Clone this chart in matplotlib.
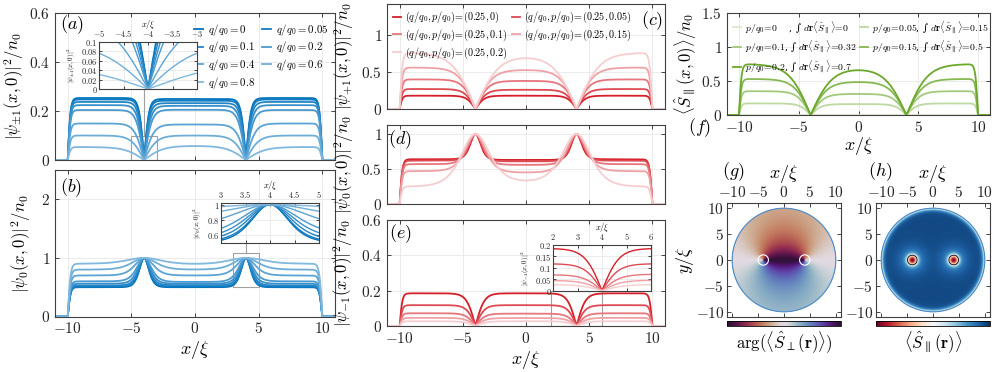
import numpy as np
import matplotlib.pyplot as plt
from matplotlib.ticker import FuncFormatter
from matplotlib.patches import Rectangle, Circle

plt.rcParams['mathtext.fontset'] = 'cm'
plt.rcParams['font.family'] = 'serif'
plt.rcParams['font.serif'] = ['DejaVu Serif']

# geometry
XV = 4.0        # vortices sit at x = +-4
R_WALL = 10.0   # box / disk edge

# (a) |psi_+-1|^2 , one curve per q/q0
q_labels = ['0', '0.05', '0.1', None, '0.2', '0.4', '0.6', '0.8']
a_outer = [0.253, 0.247, 0.237, 0.224, 0.204, 0.149, 0.100, 0.053]
a_center = [0.249, 0.242, 0.232, 0.221, 0.205, 0.145, 0.100, 0.058]
a_width = [0.38, 0.40, 0.45, 0.52, 0.60, 0.75, 1.0, 1.5]

# (b) |psi_0|^2
b_outer = [0.50, 0.51, 0.53, 0.56, 0.60, 0.70, 0.80, 0.90]
b_center = [0.50, 0.515, 0.535, 0.56, 0.59, 0.70, 0.80, 0.89]
b_width = [0.5, 0.52, 0.58, 0.65, 0.75, 0.95, 1.25, 1.8]

# (c)-(e), one curve per p/q0 at q/q0 = 0.25
p_labels = ['0', '0.05', '0.1', '0.15', '0.2']
c_outer = [0.18, 0.27, 0.40, 0.56, 0.76]
c_center = [0.18, 0.26, 0.38, 0.53, 0.72]
c_width = [0.7, 0.85, 1.0, 1.3, 1.8]
d_outer = [0.64, 0.62, 0.57, 0.47, 0.25]
d_center = [0.63, 0.61, 0.56, 0.45, 0.31]
d_width = [0.55, 0.65, 0.8, 1.05, 1.5]
e_outer = [0.185, 0.118, 0.072, 0.046, 0.027]
e_center = [0.185, 0.118, 0.070, 0.045, 0.027]
e_width = [0.7, 0.7, 0.75, 0.8, 0.9]

# (f) <S_par>
f_outer = [0.0, 0.17, 0.35, 0.53, 0.75]
f_center = [0.0, 0.16, 0.31, 0.49, 0.69]
f_width = [0.9, 0.9, 1.1, 1.4, 1.8]
f_integral = ['0', '0.15', '0.32', '0.5', '0.7']

# (g)/(h) disk maps
RING_R = 1.0
S_BULK = 0.9
CORE_DEPTH = 1.6
CORE_R = 1.0
HALO_DEPTH = 0.25
HALO_R = 2.5

X = np.linspace(-11, 11, 2201)


def smooth_base(x, outer, center):
    s = 0.5 * (1 + np.tanh((np.abs(x) - XV) / 0.5))
    return center + (outer - center) * s


def vort(x, w, n):
    return (np.tanh(np.abs(x - XV) / w) * np.tanh(np.abs(x + XV) / w)) ** n


def wall(x, ww=0.22):
    return np.tanh(np.clip(R_WALL - np.abs(x), 0, None) / ww)


def dip(x, outer, center, w):
    return smooth_base(x, outer, center) * vort(x, w, 1) * wall(x)


def peak(x, outer, center, w):
    b = smooth_base(x, outer, center)
    return (b + (1 - b) * (1 - vort(x, w, 2))) * wall(x)


def tint(rgb, t):
    rgb = np.array(rgb)
    return tuple(rgb + (1 - rgb) * t)


fmt = FuncFormatter(lambda v, p: f'${v:g}$')


def style(ax, fs=11):
    ax.tick_params(direction='in', top=True, right=True, length=3, width=0.6,
                   labelsize=fs, colors='#262626')
    ax.xaxis.set_major_formatter(fmt)
    ax.yaxis.set_major_formatter(fmt)
    ax.grid(True, color='#e8e8e8', lw=0.6)
    ax.set_axisbelow(True)
    for s in ax.spines.values():
        s.set_color('#404040')
        s.set_linewidth(0.8)


def inset_style(ax):
    style(ax, fs=6)
    ax.tick_params(length=2, labeltop=True, labelbottom=False, pad=1)
    ax.tick_params(axis='x', pad=2)
    ax.xaxis.set_label_position('top')


BLUE = (0.0, 0.447, 0.741)
RED = (0.84, 0.12, 0.16)
GREEN = (0.42, 0.66, 0.17)
blues = [tint(BLUE, t) for t in np.linspace(0, 0.5, len(a_outer))]
reds = [tint(RED, t) for t in np.linspace(0, 0.78, len(p_labels))]
greens = [tint(GREEN, t) for t in np.linspace(0.75, 0, len(p_labels))]

fig = plt.figure(figsize=(9.97, 3.72), dpi=100)
W, H = 997, 372


def px_axes(l, t, r, b):
    return fig.add_axes([l / W, 1 - b / H, (r - l) / W, (b - t) / H])


def px_text(x, y, s, **kw):
    fig.text(x / W, 1 - y / H, s, ha='center', va='center', **kw)


lw = 1.3
# ---------------- (a)
ax_a = px_axes(55, 13, 335, 160)
lines_a = []
for i in range(len(a_outer)):
    ln, = ax_a.plot(X, dip(X, a_outer[i], a_center[i], a_width[i]), color=blues[i], lw=lw)
    lines_a.append(ln)
style(ax_a)
ax_a.set_xlim(-11, 11)
ax_a.set_ylim(0, 0.6)
ax_a.set_xticks([-10, -5, 0, 5, 10])
ax_a.set_yticks([0, 0.2, 0.4, 0.6])
ax_a.tick_params(labelbottom=False)
ax_a.set_ylabel(r'$|\psi_{\pm 1}(x,0)|^2/n_0$', fontsize=12, labelpad=2)
px_text(72, 25, r'$(a)$', fontsize=13)
order = [0, 2, 5, 7, 1, 4, 6]
ax_a.legend([lines_a[k] for k in order], [rf'$q/q_0={q_labels[k]}$' for k in order],
            ncol=2, loc='upper right', bbox_to_anchor=(1.0, 0.985), frameon=False,
            fontsize=7.8, handlelength=0.8, handletextpad=0.5, columnspacing=0.6,
            labelspacing=0.15, borderaxespad=0.2)
ax_a.add_patch(Rectangle((-5, 0), 2, 0.1, fill=False, ec='#a0a0a0', lw=0.8))
ax_a.plot([-4, -4], [0.1, 0.3], color='#a0a0a0', lw=0.8)

ia = px_axes(99, 42, 197, 89)
for i in range(len(a_outer)):
    ia.plot(X, dip(X, a_outer[i], a_center[i], a_width[i]), color=blues[i], lw=1.0)
inset_style(ia)
ia.set_xlim(-5, -3)
ia.set_ylim(0, 0.1)
ia.set_xticks([-5, -4.5, -4, -3.5, -3])
ia.set_yticks([0, 0.02, 0.04, 0.06, 0.08, 0.1])
ia.set_xlabel(r'$x/\xi$', fontsize=6, labelpad=1)
ia.set_ylabel(r'$|\psi_{\pm 1}(x,0)|^2$', fontsize=5, labelpad=2)

# ---------------- (b)
ax_b = px_axes(55, 170, 335, 316.5)
for i in range(len(b_outer)):
    ax_b.plot(X, peak(X, b_outer[i], b_center[i], b_width[i]), color=blues[i], lw=lw)
style(ax_b)
ax_b.set_xlim(-11, 11)
ax_b.set_ylim(0, 2.5)
ax_b.set_xticks([-10, -5, 0, 5, 10])
ax_b.set_yticks([0, 1, 2])
ax_b.set_xlabel(r'$x/\xi$', fontsize=13, labelpad=2)
ax_b.set_ylabel(r'$|\psi_0(x,0)|^2/n_0$', fontsize=12, labelpad=6)
px_text(71, 188, r'$(b)$', fontsize=13)
ax_b.add_patch(Rectangle((3, 0.5), 2, 0.58, fill=False, ec='#a0a0a0', lw=0.8))
ax_b.plot([4, 4], [1.08, 1.25], color='#a0a0a0', lw=0.8)

ib = px_axes(221, 203, 319, 243)
for i in range(len(b_outer)):
    ib.plot(X, peak(X, b_outer[i], b_center[i], b_width[i]), color=blues[i], lw=1.0)
inset_style(ib)
ib.set_xlim(3, 5)
ib.set_ylim(0.5, 1.02)
ib.set_xticks([3, 3.5, 4, 4.5, 5])
ib.set_yticks([0.6, 0.8, 1])
ib.set_xlabel(r'$x/\xi$', fontsize=6, labelpad=1)
ib.set_ylabel(r'$|\psi_0(x,0)|^2$', fontsize=5, labelpad=2)

# ---------------- (c)
ax_c = px_axes(387, 4, 665, 109)
lines_c = []
for i in range(len(p_labels)):
    ln, = ax_c.plot(X, dip(X, c_outer[i], c_center[i], c_width[i]), color=reds[i], lw=lw)
    lines_c.append(ln)
style(ax_c)
ax_c.set_xlim(-11, 11)
ax_c.set_ylim(0, 1.42)
ax_c.set_xticks([-10, -5, 0, 5, 10])
ax_c.set_yticks([0, 0.5, 1])
ax_c.tick_params(labelbottom=False)
ax_c.set_ylabel(r'$|\psi_{+1}(x,0)|^2/n_0$', fontsize=12, labelpad=4)
px_text(652, 21, r'$(c)$', fontsize=13)
order = [0, 2, 4, 1, 3]
ax_c.legend([lines_c[k] for k in order],
            [rf'$(q/q_0,p/q_0)\!=\!(0.25,{p_labels[k]})$' for k in order],
            ncol=2, loc='upper left', bbox_to_anchor=(0.0, 1.0), frameon=False,
            fontsize=7.3, handlelength=0.8, handletextpad=0.4, columnspacing=0.4,
            labelspacing=0.25, borderaxespad=0.2)

# ---------------- (d)
ax_d = px_axes(387, 125, 665, 204)
for i in range(len(p_labels)):
    ax_d.plot(X, peak(X, d_outer[i], d_center[i], d_width[i]), color=reds[i], lw=lw)
style(ax_d)
ax_d.set_xlim(-11, 11)
ax_d.set_ylim(0, 1.13)
ax_d.set_xticks([-10, -5, 0, 5, 10])
ax_d.set_yticks([0, 0.5, 1])
ax_d.tick_params(labelbottom=False)
ax_d.set_ylabel(r'$|\psi_0(x,0)|^2/n_0$', fontsize=12, labelpad=4)
px_text(400, 140, r'$(d)$', fontsize=13)

# ---------------- (e)
ax_e = px_axes(387, 220, 665, 326)
for i in range(len(p_labels)):
    ax_e.plot(X, dip(X, e_outer[i], e_center[i], e_width[i]), color=reds[i], lw=lw)
style(ax_e)
ax_e.set_xlim(-11, 11)
ax_e.set_ylim(0, 0.6)
ax_e.set_xticks([-10, -5, 0, 5, 10])
ax_e.set_yticks([0, 0.2, 0.4, 0.6])
ax_e.set_xlabel(r'$x/\xi$', fontsize=13, labelpad=2)
ax_e.set_ylabel(r'$|\psi_{-1}(x,0)|^2/n_0$', fontsize=12, labelpad=4)
px_text(400, 234, r'$(e)$', fontsize=13)
ax_e.add_patch(Rectangle((2, 0), 4, 0.2, fill=False, ec='#a0a0a0', lw=0.8))

ie = px_axes(553, 245, 651, 290.7)
for i in range(len(p_labels)):
    ie.plot(X, dip(X, e_outer[i], e_center[i], e_width[i]), color=reds[i], lw=1.0)
inset_style(ie)
ie.set_xlim(2, 6)
ie.set_ylim(0, 0.2)
ie.set_xticks([2, 3, 4, 5, 6])
ie.set_yticks([0, 0.05, 0.1, 0.15, 0.2])
ie.set_xlabel(r'$x/\xi$', fontsize=6, labelpad=1)
ie.set_ylabel(r'$|\psi_{-1}(x,0)|^2$', fontsize=5, labelpad=2)

# ---------------- (f)
ax_f = px_axes(727, 13, 990, 115)
lines_f = []
for i in range(len(p_labels)):
    if f_outer[i] == 0:
        y = np.zeros_like(X)
    else:
        y = dip(X, f_outer[i], f_center[i], f_width[i])
    ln, = ax_f.plot(X, y, color=greens[i], lw=lw)
    lines_f.append(ln)
style(ax_f)
ax_f.set_xlim(-11, 11)
ax_f.set_ylim(0, 1.5)
ax_f.set_xticks([-10, -5, 0, 5, 10])
ax_f.set_yticks([0, 0.5, 1, 1.5])
ax_f.set_xlabel(r'$x/\xi$', fontsize=13, labelpad=0)
ax_f.set_ylabel(r'$\langle\hat{S}_\parallel(x,0)\rangle/n_0$', fontsize=12, labelpad=2)
px_text(700, 128, r'$(f)$', fontsize=13)
order = [0, 2, 4, 1, 3]
f_texts = []
for k in order:
    sep = '    ' if p_labels[k] == '0' else ''
    f_texts.append(rf'$p/q_0\!=\!{p_labels[k]}${sep}, ∫ $d\mathbf{{r}}\langle\hat{{S}}_\parallel\rangle\!=\!{f_integral[k]}$')
ax_f.legend([lines_f[k] for k in order], f_texts, ncol=2, loc='upper left',
            bbox_to_anchor=(0.0, 1.0), frameon=False, fontsize=7, handlelength=0.8,
            handletextpad=0.4, columnspacing=0.4, labelspacing=0.3, borderaxespad=0.2)

# ---------------- (g) and (h)
grid = np.linspace(-11, 11, 441)
XX, YY = np.meshgrid(grid, grid)
RR = np.hypot(XX, YY)
outside = RR > R_WALL
phase = np.angle(np.exp(1j * (np.arctan2(YY, XX + XV) - np.arctan2(YY, XX - XV))))
phase = np.ma.masked_where(outside, phase)

d1 = np.hypot(XX - XV, YY)
d2 = np.hypot(XX + XV, YY)
cores = CORE_DEPTH * (np.exp(-(d1 / CORE_R) ** 2) + np.exp(-(d2 / CORE_R) ** 2))
halo = HALO_DEPTH * (np.exp(-(d1 / HALO_R) ** 2) + np.exp(-(d2 / HALO_R) ** 2))
edge = np.tanh(np.clip(R_WALL - RR, 0, None) / 0.5)
s_par = S_BULK * edge - cores - halo
s_par = np.ma.masked_where(outside, s_par)


def map_style(ax):
    ax.set_xlim(-11, 11)
    ax.set_ylim(-11, 11)
    ax.set_xticks([-10, -5, 0, 5, 10])
    ax.set_yticks([-10, -5, 0, 5, 10])
    ax.xaxis.set_major_formatter(fmt)
    ax.yaxis.set_major_formatter(fmt)
    ax.tick_params(direction='in', top=True, right=True, bottom=True, labeltop=True,
                   labelbottom=False, length=3, width=0.6, labelsize=11, colors='#262626', pad=2)
    ax.xaxis.set_label_position('top')
    ax.set_xlabel(r'$x/\xi$', fontsize=13, labelpad=5)
    for s in ax.spines.values():
        s.set_color('#404040')
        s.set_linewidth(0.8)
    ax.add_patch(Circle((0, 0), R_WALL, fill=False, ec='#4a8ccc', lw=0.8))


ax_g = px_axes(727, 203, 841, 317)
im_g = ax_g.imshow(phase, extent=(-11, 11, -11, 11), origin='lower',
                   cmap='twilight_shifted_r', vmin=-np.pi, vmax=np.pi, aspect='auto')
for xv in (-XV, XV):
    ax_g.add_patch(Circle((xv, 0), RING_R, fill=False, ec='white', lw=0.8))
map_style(ax_g)
ax_g.set_ylabel(r'$y/\xi$', fontsize=13, labelpad=0)
px_text(733, 172, r'$(g)$', fontsize=13)
cax_g = px_axes(727, 321, 841, 326)
cb = fig.colorbar(im_g, cax=cax_g, orientation='horizontal')
cb.set_ticks([])
cb.outline.set_linewidth(0.6)
cax_g.set_xlabel(r'$\arg(\langle\hat{S}_\perp(\mathbf{r})\rangle)$', fontsize=12, labelpad=2)

ax_h = px_axes(876, 203, 990, 317)
im_h = ax_h.imshow(s_par, extent=(-11, 11, -11, 11), origin='lower',
                   cmap='RdBu', vmin=-1, vmax=1, aspect='auto')
ax_h.contour(XX, YY, S_BULK - cores - halo, levels=[0], colors='k', linewidths=0.6)
map_style(ax_h)
px_text(880, 172, r'$(h)$', fontsize=13)
cax_h = px_axes(876, 321, 990, 326)
cb = fig.colorbar(im_h, cax=cax_h, orientation='horizontal')
cb.set_ticks([])
cb.outline.set_linewidth(0.6)
cax_h.set_xlabel(r'$\langle\hat{S}_\parallel(\mathbf{r})\rangle$', fontsize=12, labelpad=2)

fig.savefig('out.png', dpi=100)
